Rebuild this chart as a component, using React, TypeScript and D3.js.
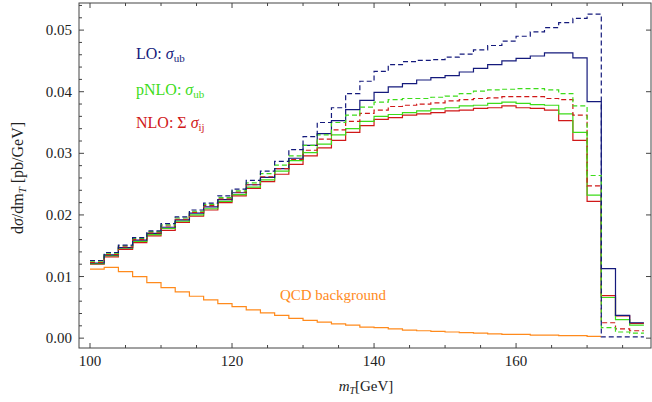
import React, { useEffect, useRef } from 'react';
import * as d3 from 'd3';

// bin lower edges in GeV, 2 GeV wide
const binEdges = [
  100, 102, 104, 106, 108, 110, 112, 114, 116, 118,
  120, 122, 124, 126, 128, 130, 132, 134, 136, 138,
  140, 142, 144, 146, 148, 150, 152, 154, 156, 158,
  160, 162, 164, 166, 168, 170, 172, 174, 176,
];

const loDashed = [
  0.0126, 0.0139, 0.0151, 0.0163, 0.0174, 0.0186, 0.0197, 0.0208, 0.0219, 0.0231,
  0.0242, 0.0256, 0.0271, 0.0287, 0.0306, 0.0327, 0.0350, 0.0374, 0.0397, 0.0417,
  0.0433, 0.0444, 0.0449, 0.0451, 0.0452, 0.0456, 0.0461, 0.0468, 0.0475, 0.0482,
  0.0490, 0.0497, 0.0504, 0.0512, 0.0519, 0.0526, 0.0002, 0.0002, 0.0002,
];
const loSolid = [
  0.0122, 0.0135, 0.0147, 0.0159, 0.0170, 0.0180, 0.0192, 0.0203, 0.0213, 0.0225,
  0.0236, 0.0249, 0.0261, 0.0275, 0.0292, 0.0313, 0.0332, 0.0353, 0.0371, 0.0386,
  0.0399, 0.0408, 0.0413, 0.0419, 0.0423, 0.0426, 0.0432, 0.0438, 0.0444, 0.0450,
  0.0454, 0.0458, 0.0463, 0.0463, 0.0455, 0.0384, 0.0113, 0.0037, 0.0025,
];
const pnloDashed = [
  0.0125, 0.0138, 0.0150, 0.0162, 0.0173, 0.0184, 0.0195, 0.0206, 0.0217, 0.0228,
  0.0239, 0.0252, 0.0267, 0.0281, 0.0296, 0.0313, 0.0330, 0.0350, 0.0362, 0.0375,
  0.0383, 0.0387, 0.0389, 0.0389, 0.0391, 0.0393, 0.0397, 0.0401, 0.0403, 0.0404,
  0.0405, 0.0405, 0.0403, 0.0397, 0.0377, 0.0264, 0.0017, 0.0010, 0.0008,
];
const pnloSolid = [
  0.0121, 0.0134, 0.0146, 0.0157, 0.0168, 0.0178, 0.0190, 0.0200, 0.0210, 0.0222,
  0.0233, 0.0245, 0.0257, 0.0271, 0.0288, 0.0301, 0.0315, 0.0330, 0.0340, 0.0352,
  0.0360, 0.0363, 0.0366, 0.0369, 0.0372, 0.0374, 0.0377, 0.0378, 0.0381, 0.0383,
  0.0381, 0.0379, 0.0378, 0.0364, 0.0334, 0.0232, 0.0066, 0.0030, 0.0021,
];
const nloDashed = [
  0.0123, 0.0136, 0.0148, 0.0160, 0.0171, 0.0182, 0.0193, 0.0204, 0.0215, 0.0226,
  0.0237, 0.0249, 0.0262, 0.0275, 0.0290, 0.0305, 0.0323, 0.0338, 0.0352, 0.0365,
  0.0370, 0.0376, 0.0378, 0.0380, 0.0382, 0.0385, 0.0387, 0.0389, 0.0390, 0.0392,
  0.0392, 0.0392, 0.0389, 0.0387, 0.0362, 0.0247, 0.0025, 0.0015, 0.0012,
];
const nloSolid = [
  0.0120, 0.0132, 0.0144, 0.0155, 0.0166, 0.0175, 0.0188, 0.0198, 0.0208, 0.0220,
  0.0231, 0.0243, 0.0254, 0.0266, 0.0282, 0.0296, 0.0309, 0.0321, 0.0334, 0.0345,
  0.0355, 0.0358, 0.0362, 0.0364, 0.0366, 0.0369, 0.0370, 0.0373, 0.0374, 0.0377,
  0.0374, 0.0373, 0.0370, 0.0353, 0.0321, 0.0222, 0.0069, 0.0036, 0.0024,
];
// QCD background only runs up to 172 GeV
const qcdBackground = [
  0.0112, 0.0115, 0.0108, 0.0100, 0.0090, 0.0082, 0.0075, 0.0068, 0.0062, 0.0056,
  0.0051, 0.0046, 0.0041, 0.0037, 0.0032, 0.0029, 0.0026, 0.0023, 0.0021, 0.0018,
  0.0017, 0.0015, 0.0013, 0.0012, 0.0011, 0.0010, 0.0009, 0.0008, 0.0007, 0.0006,
  0.0006, 0.0005, 0.0005, 0.0004, 0.0004, 0.0003,
];

const xTicks = [100, 120, 140, 160];
const yTicks = [0, 0.01, 0.02, 0.03, 0.04, 0.05];

const NAVY = '#141a7c';
const GREEN = '#3ddc1a';
const RED = '#d01818';
const ORANGE = '#ff8a1c';

function App() {
  const ref = useRef<SVGSVGElement>(null);

  useEffect(() => {
    const svg = d3.select(ref.current);
    svg.selectAll('*').remove();

    const left = 79, right = 651, top = 3, bottom = 348;
    const x = d3.scaleLinear().domain([98.45, 179]).range([left, right]);
    const y = d3.scaleLinear().domain([-0.0016, 0.0544]).range([bottom, top]);

    const step = d3.line<[number, number]>()
      .x(d => x(d[0]))
      .y(d => y(d[1]))
      .curve(d3.curveStepAfter);

    const toPoints = (vals: number[]): [number, number][] => {
      const pts: [number, number][] = vals.map((v, i) => [binEdges[i], v]);
      pts.push([binEdges[vals.length - 1] + 2, vals[vals.length - 1]]);
      return pts;
    };

    const plot = svg.append('g');

    const series = [
      { vals: qcdBackground, color: ORANGE, dash: null },
      { vals: nloSolid, color: RED, dash: null },
      { vals: pnloSolid, color: GREEN, dash: null },
      { vals: loSolid, color: NAVY, dash: null },
      { vals: nloDashed, color: RED, dash: '5,3' },
      { vals: pnloDashed, color: GREEN, dash: '5,3' },
      { vals: loDashed, color: NAVY, dash: '5,3' },
    ];

    series.forEach(s => {
      plot.append('path')
        .attr('d', step(toPoints(s.vals)))
        .attr('fill', 'none')
        .attr('stroke', s.color)
        .attr('stroke-width', 1.2)
        .attr('stroke-dasharray', s.dash);
    });

    // frame
    svg.append('rect')
      .attr('x', left).attr('y', top)
      .attr('width', right - left).attr('height', bottom - top)
      .attr('fill', 'none')
      .attr('stroke', '#444')
      .attr('stroke-width', 1);

    // ticks, pointing inward
    const tickColor = '#444';
    const xMinor = d3.range(100, 179, 5);
    xMinor.forEach(v => {
      const len = xTicks.includes(v) ? 5 : 3;
      svg.append('line')
        .attr('x1', x(v)).attr('x2', x(v))
        .attr('y1', bottom).attr('y2', bottom - len)
        .attr('stroke', tickColor);
      svg.append('line')
        .attr('x1', x(v)).attr('x2', x(v))
        .attr('y1', top).attr('y2', top + len)
        .attr('stroke', tickColor);
    });

    const yMinor = d3.range(0, 0.0541, 0.002);
    yMinor.forEach((v, i) => {
      const major = i % 5 === 0;
      svg.append('line')
        .attr('x1', left).attr('x2', left + (major ? 5 : 3))
        .attr('y1', y(v)).attr('y2', y(v))
        .attr('stroke', tickColor);
      if (major) {
        svg.append('line')
          .attr('x1', right).attr('x2', right - 5)
          .attr('y1', y(v)).attr('y2', y(v))
          .attr('stroke', tickColor);
      }
    });

    const font = 'Liberation Serif, Times New Roman, Times, serif';

    svg.selectAll('.xlab')
      .data(xTicks).enter()
      .append('text')
      .attr('x', d => x(d))
      .attr('y', 366)
      .attr('text-anchor', 'middle')
      .style('font-family', font)
      .style('font-size', '15px')
      .attr('fill', '#222')
      .text(d => d);

    svg.selectAll('.ylab')
      .data(yTicks).enter()
      .append('text')
      .attr('x', 72)
      .attr('y', d => y(d) + 5)
      .attr('text-anchor', 'end')
      .style('font-family', font)
      .style('font-size', '15px')
      .attr('fill', '#222')
      .text(d => d3.format('.2f')(d));

    // axis titles
    const xt = svg.append('text')
      .attr('x', 366).attr('y', 391)
      .attr('text-anchor', 'middle')
      .style('font-family', font)
      .style('font-size', '15px')
      .attr('fill', '#222');
    xt.append('tspan').style('font-style', 'italic').text('m');
    xt.append('tspan').style('font-style', 'italic').style('font-size', '10px').attr('dy', 3).text('T');
    xt.append('tspan').attr('dy', -3).text('[GeV]');

    const yt = svg.append('text')
      .attr('transform', 'translate(23,178) rotate(-90)')
      .attr('text-anchor', 'middle')
      .style('font-family', font)
      .style('font-size', '16px')
      .attr('fill', '#222');
    yt.append('tspan').text('d');
    yt.append('tspan').style('font-style', 'italic').text('σ');
    yt.append('tspan').text('/dm');
    yt.append('tspan').style('font-style', 'italic').style('font-size', '11px').attr('dy', 3).text('T');
    yt.append('tspan').attr('dy', -3).text(' [pb/GeV]');

    // legend labels
    const legend = [
      { label: 'LO: ', sym: 'σ', sub: 'ub', color: NAVY, y: 59 },
      { label: 'pNLO: ', sym: 'σ', sub: 'ub', color: GREEN, y: 95 },
      { label: 'NLO: Σ ', sym: 'σ', sub: 'ij', color: RED, y: 128 },
    ];
    legend.forEach(l => {
      const t = svg.append('text')
        .attr('x', 136).attr('y', l.y)
        .style('font-family', font)
        .style('font-size', '16px')
        .attr('fill', l.color);
      t.append('tspan').text(l.label);
      t.append('tspan').style('font-style', 'italic').text(l.sym);
      t.append('tspan').style('font-size', '11px').attr('dy', 3).text(l.sub);
    });

    svg.append('text')
      .attr('x', 333).attr('y', 300)
      .attr('text-anchor', 'middle')
      .style('font-family', font)
      .style('font-size', '15px')
      .attr('fill', ORANGE)
      .text('QCD background');
  }, []);

  return (
    <svg ref={ref} width={652} height={402}
      style={{ position: 'absolute', left: 0, top: 0, background: 'white' }} />
  );
}

export default App;
